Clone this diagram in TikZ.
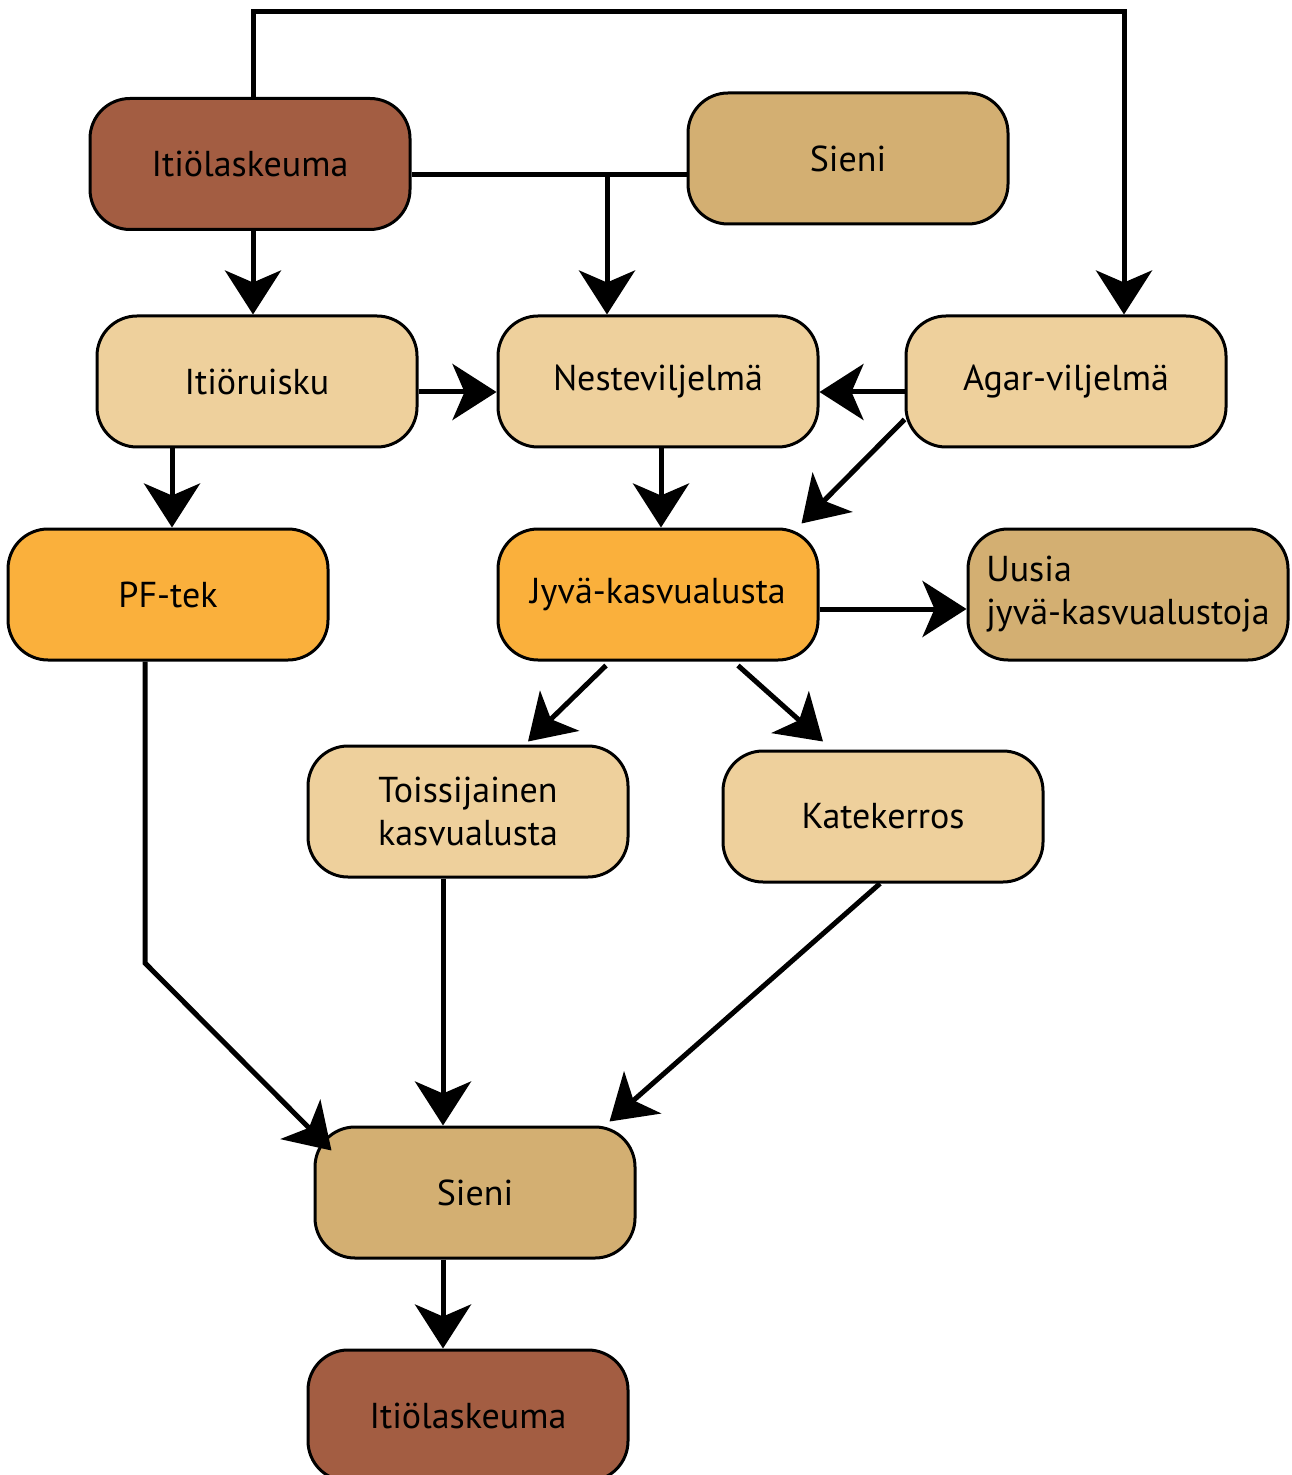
\documentclass[tikz,border=0pt]{standalone}
\usepackage{fontspec}
\setmainfont{PT Sans}
\usetikzlibrary{arrows.meta,calc}
\definecolor{ruskea}{HTML}{A35D42}
\definecolor{kulta}{HTML}{D3AF72}
\definecolor{vaalea}{HTML}{EED09C}
\definecolor{oranssi}{HTML}{FAB03C}
\begin{document}
\begin{tikzpicture}[x=0.5pt,y=-0.5pt,
            laatikko/.style={draw,line width=1.5pt,rounded corners=20pt,
                minimum width=160pt,minimum height=65.5pt,inner sep=0pt,
                font=\fontsize{18}{21.5}\selectfont,align=center},
            viiva/.style={line width=2.5pt},
            nuoli/.style={viiva,-{Stealth[length=22pt,width=28pt,inset=6pt]}}]
            \useasboundingbox (0,0) rectangle (1291,1475);
            \node[laatikko,fill=ruskea]  (itA)    at (250,164)   {Itiölaskeuma};
            \node[laatikko,fill=kulta]   (sieA)   at (848,158.5) {Sieni};
            \node[laatikko,fill=vaalea]  (ruisku) at (257,381.5) {Itiöruisku};
            \node[laatikko,fill=vaalea]  (neste)  at (658,381.5) {Nesteviljelmä};
            \node[laatikko,fill=vaalea]  (agar)   at (1066,381.5) {Agar-viljelmä};
            \node[laatikko,fill=oranssi] (pf)     at (168,594.5) {PF-tek};
            \node[laatikko,fill=oranssi] (jyva)   at (658,594.5) {Jyvä-kasvualusta};
            \node[laatikko,fill=kulta,align=left] (uusia) at (1128,594.5) {Uusia\\jyvä-kasvualustoja};
            \node[laatikko,fill=vaalea]  (toiss)  at (468,811.5) {Toissijainen\\kasvualusta};
            \node[laatikko,fill=vaalea]  (kate)   at (883,816.5) {Katekerros};
            \node[laatikko,fill=kulta]   (sieB)   at (475,1192.5) {Sieni};
            \node[laatikko,fill=ruskea]  (itB)    at (468,1415.5) {Itiölaskeuma};
            \coordinate (yla) at (600,12);
            \coordinate (haara) at (607,175);
            \coordinate (mutka) at (145,963);
            \draw[nuoli] ($(itA.north)+(3,0)$) |- (yla) -| ($(agar.north)+(58,0)$);
            \draw[viiva] ($(itA.east)+(0,11)$) -- ($(sieA.west)+(0,16.5)$);
            \draw[nuoli] (haara) -- ($(neste.north)+(-51,0)$);
            \draw[nuoli] ($(itA.south)+(3,0)$) -- ($(ruisku.north)+(-4,0)$);
            \draw[nuoli] ($(ruisku.east)+(0,10.5)$) -- ($(neste.west)+(0,10.5)$);
            \draw[nuoli] ($(agar.west)+(0,10.5)$) -- ($(neste.east)+(0,10.5)$);
            \draw[nuoli] ($(agar.west)+(0,38)$) -- ($(jyva.north east)+(-18,-4)$);
            \draw[nuoli] ($(ruisku.south)+(-85,0)$) -- ($(pf.north)+(4,0)$);
            \draw[nuoli] ($(neste.south)+(3,0)$) -- ($(jyva.north)+(3,0)$);
            \draw[nuoli] ($(jyva.east)+(0,14.5)$) -- ($(uusia.west)+(0,14.5)$);
            \draw[nuoli] ($(jyva.south)+(-52,4)$) -- ($(toiss.north)+(60,-3)$);
            \draw[nuoli] ($(jyva.south)+(80,4)$) -- ($(kate.north)+(-60,-8)$);
            \draw[nuoli] ($(pf.south)+(-23,0)$) -- (mutka) -- ($(sieB.north west)+(18,25)$);
            \draw[nuoli] ($(toiss.south)+(-25,0)$) -- ($(sieB.north)+(-32,0)$);
            \draw[nuoli] ($(kate.south)+(-3,0)$) -- ($(sieB.north east)+(-27,-4)$);
            \draw[nuoli] ($(sieB.south)+(-32,0)$) -- ($(itB.north)+(-25,0)$);
        \end{tikzpicture}
\end{document}
